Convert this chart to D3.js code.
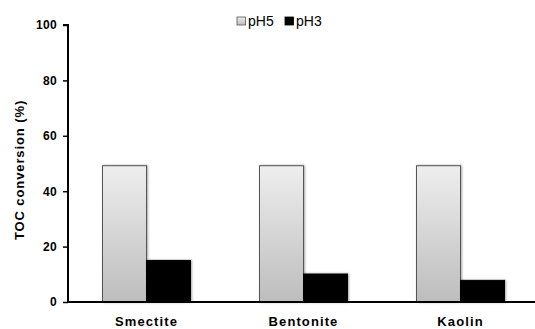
<!DOCTYPE html>
<html><head><meta charset="utf-8">
<script src="https://cdn.jsdelivr.net/npm/d3@7"></script>
<style>body{margin:0;background:#fff}svg{display:block}text{font-family:"Liberation Sans",Arial,sans-serif}</style>
</head><body>
<svg id="c" width="535" height="329"></svg>
<script>
const categories = ["Smectite", "Bentonite", "Kaolin"];
const seriesNames = ["pH5", "pH3"];
const pH5 = [49.2, 49.2, 49.2];
const pH3 = [15.0, 10.1, 7.8];
const yTicks = [0, 20, 40, 60, 80, 100];
const yTitle = "TOC conversion  (%)";

const svg = d3.select("#c");
const defs = svg.append("defs");
const g = defs.append("linearGradient").attr("id","gr").attr("x1",0).attr("y1",0).attr("x2",0).attr("y2",1);
g.append("stop").attr("offset","0%").attr("stop-color","#eeeeee");
g.append("stop").attr("offset","100%").attr("stop-color","#bdbdbd");
const f = defs.append("filter").attr("id","sh").attr("x","-20%").attr("y","-20%").attr("width","140%").attr("height","140%");
f.append("feDropShadow").attr("dx",1).attr("dy",0).attr("stdDeviation",1).attr("flood-color","#000").attr("flood-opacity",0.35);

const x0 = 68, x1 = 539, yTop = 25, yBot = 302;
const x = d3.scaleBand().domain(categories).range([x0, x1]).padding(0);
const y = d3.scaleLinear().domain([0, 100]).range([yBot, yTop]);
const barW = 44;
const xs = d3.scaleBand().domain(seriesNames).range([0, barW*2]);

const data = categories.map((c,i)=>({c, vals:[{s:"pH5",v:pH5[i]},{s:"pH3",v:pH3[i]}]}));
const grp = svg.append("g").selectAll("g").data(data).join("g")
  .attr("transform", d=>`translate(${x(d.c)+x.bandwidth()/2-barW},0)`);
grp.selectAll("rect").data(d=>d.vals).join("rect")
  .attr("x", d=>xs(d.s)).attr("width", xs.bandwidth())
  .attr("y", d=>y(d.v)).attr("height", d=>y(0)-y(d.v))
  .attr("fill", d=>d.s==="pH5"?"url(#gr)":"#000")
  .attr("stroke", d=>d.s==="pH5"?"#555":"#000").attr("stroke-width",1)
  .attr("filter","url(#sh)");

// axes
const ya = svg.append("g").attr("transform",`translate(${x0},0)`)
  .call(d3.axisLeft(y).tickValues(yTicks).tickSize(5).tickPadding(6));
ya.select(".domain").attr("stroke","#000").attr("stroke-width",2).attr("d",`M-5,${yTop}H0V${yBot}`);
ya.selectAll(".tick line").attr("stroke","#000").attr("stroke-width",1.5);
ya.selectAll(".tick text").attr("font-size",12).attr("font-weight","bold").attr("fill","#000")
  .attr("letter-spacing",0.3).attr("font-family","'Liberation Sans',Arial,sans-serif");

const xa = svg.append("g").attr("transform",`translate(0,${yBot})`)
  .call(d3.axisBottom(x).tickSize(0));
xa.select(".domain").attr("stroke","#000").attr("stroke-width",2).attr("d",`M${x0-1},0H535`);
xa.selectAll(".tick text").attr("y",24).attr("dy",0).attr("font-size",13).attr("font-weight","bold").attr("fill","#000")
  .attr("letter-spacing",1.1).attr("font-family","'Liberation Sans',Arial,sans-serif");

svg.append("text").attr("transform",`translate(24,170) rotate(-90)`)
  .attr("text-anchor","middle").attr("font-size",13).attr("font-weight","bold")
  .attr("letter-spacing",0.9).text(yTitle);

// legend
const leg = [{s:"pH5",x:237},{s:"pH3",x:285}];
const lg = svg.append("g").selectAll("g").data(leg).join("g").attr("transform",d=>`translate(${d.x},17)`);
lg.append("rect").attr("width",8.5).attr("height",8)
  .attr("fill",d=>d.s==="pH5"?"url(#gr)":"#000").attr("stroke",d=>d.s==="pH5"?"#555":"#000").attr("stroke-width",0.8);
lg.append("text").attr("x",11).attr("y",9).attr("font-size",14).attr("fill","#000").text(d=>d.s);
</script>
</body></html>
